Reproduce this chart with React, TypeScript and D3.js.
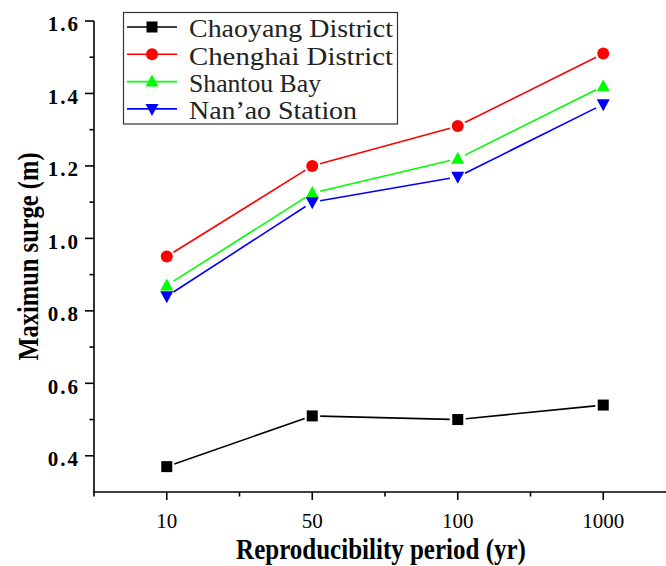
import React from "react";
import * as d3 from "d3";

const categories = ["10", "50", "100", "1000"];
const seriesNames = ["Chaoyang District", "Chenghai District", "Shantou Bay", "Nan\u2019ao Station"];
const chaoyang = [0.37, 0.51, 0.5, 0.54];
const chenghai = [0.95, 1.2, 1.31, 1.51];
const shantou = [0.87, 1.125, 1.22, 1.42];
const nanao = [0.84, 1.1, 1.17, 1.37];
const yMajorTicks = [0.4, 0.6, 0.8, 1.0, 1.2, 1.4, 1.6];
const yMinorTicks = [0.5, 0.7, 0.9, 1.1, 1.3, 1.5];

const colors = ["#000000", "#ff0000", "#00ff00", "#0000ff"];
const shapes = ["square", "circle", "up", "down"];

function Marker({ shape, x, y, color }: { shape: string; x: number; y: number; color: string }) {
  if (shape === "square") return <rect x={x - 5.5} y={y - 5.5} width={11} height={11} fill={color} />;
  if (shape === "circle") return <circle cx={x} cy={y} r={6} fill={color} />;
  if (shape === "up") return <path d={`M${x},${y - 7}L${x + 6.5},${y + 5}L${x - 6.5},${y + 5}Z`} fill={color} />;
  return <path d={`M${x},${y + 7}L${x + 6.5},${y - 5}L${x - 6.5},${y - 5}Z`} fill={color} />;
}

export default function App() {
  const W = 666, H = 566;
  const x = d3.scaleLinear().domain([-0.5, 3.5]).range([94, 676]);
  const y = d3.scaleLinear().domain([0.3, 1.6]).range([492, 21]);
  const series = [chaoyang, chenghai, shantou, nanao];
  const gap = 8;
  const xMinor = [-0.5, 0.5, 1.5, 2.5];

  const legendX = 124, legendY = 13, rowH = 27.3;
  const serif = "'Liberation Serif', 'Times New Roman', serif";

  return (
    <svg width={W} height={H} style={{ position: "absolute", left: 0, top: 0 }}>
      <rect width={W} height={H} fill="#fff" />
      {/* data lines */}
      {series.map((vals, si) => (
        <g key={si}>
          {vals.slice(0, -1).map((v, i) => {
            const x1 = x(i), y1 = y(v), x2 = x(i + 1), y2 = y(vals[i + 1]);
            const dx = x2 - x1, dy = y2 - y1, len = Math.hypot(dx, dy);
            const ux = dx / len, uy = dy / len;
            return (
              <line key={i} x1={x1 + ux * gap} y1={y1 + uy * gap} x2={x2 - ux * gap} y2={y2 - uy * gap}
                stroke={colors[si]} strokeWidth={1.6} />
            );
          })}
          {vals.map((v, i) => (
            <Marker key={i} shape={shapes[si]} x={x(i)} y={y(v)} color={colors[si]} />
          ))}
        </g>
      ))}
      {/* axes */}
      <line x1={94} y1={y(1.6)} x2={94} y2={492.5} stroke="#000" strokeWidth={1.6} />
      <line x1={93.2} y1={492} x2={666} y2={492} stroke="#000" strokeWidth={1.6} />
      {yMajorTicks.map((t) => (
        <g key={t}>
          <line x1={85} x2={94} y1={y(t)} y2={y(t)} stroke="#000" strokeWidth={1.6} />
          <text x={80} y={y(t) + 3} dy="0.35em" textAnchor="end" fontFamily={serif}
            fontWeight="bold" fontSize={21} letterSpacing={2}>{t.toFixed(1)}</text>
        </g>
      ))}
      {yMinorTicks.map((t) => (
        <line key={t} x1={89.5} x2={94} y1={y(t)} y2={y(t)} stroke="#000" strokeWidth={1.6} />
      ))}
      {categories.map((c, i) => (
        <g key={c}>
          <line x1={x(i)} x2={x(i)} y1={492} y2={500} stroke="#000" strokeWidth={1.6} />
          <text x={x(i)} y={528} textAnchor="middle" fontFamily={serif} fontSize={21}>{c}</text>
        </g>
      ))}
      {xMinor.map((t) => (
        <line key={t} x1={x(t)} x2={x(t)} y1={492} y2={496.5} stroke="#000" strokeWidth={1.6} />
      ))}
      <text transform="translate(381,559) scale(1,1.2)" textAnchor="middle" fontFamily={serif} fontWeight="bold"
        fontSize={25}>Reproducibility period (yr)</text>
      <text transform="translate(37.5,256.5) rotate(-90) scale(1,1.22)" textAnchor="middle" fontFamily={serif}
        fontWeight="bold" fontSize={24.5}>Maximun surge (m)</text>
      {/* legend */}
      <rect x={legendX - 0.5} y={legendY - 0.5} width={274} height={111.5} fill="#fff" stroke="#333" strokeWidth={1.2} />
      {seriesNames.map((n, i) => {
        const cy = legendY + 14 + i * rowH;
        return (
          <g key={n}>
            <line x1={127} x2={177} y1={cy} y2={cy} stroke={colors[i]} strokeWidth={1.6} />
            <Marker shape={shapes[i]} x={152} y={cy} color={colors[i]} />
            <text x={189} y={cy + 1} dy="0.36em" fontFamily={serif} fontSize={26}
              textLength={n.length * 12} lengthAdjust="spacingAndGlyphs" fill="#222">{n}</text>
          </g>
        );
      })}
    </svg>
  );
}
